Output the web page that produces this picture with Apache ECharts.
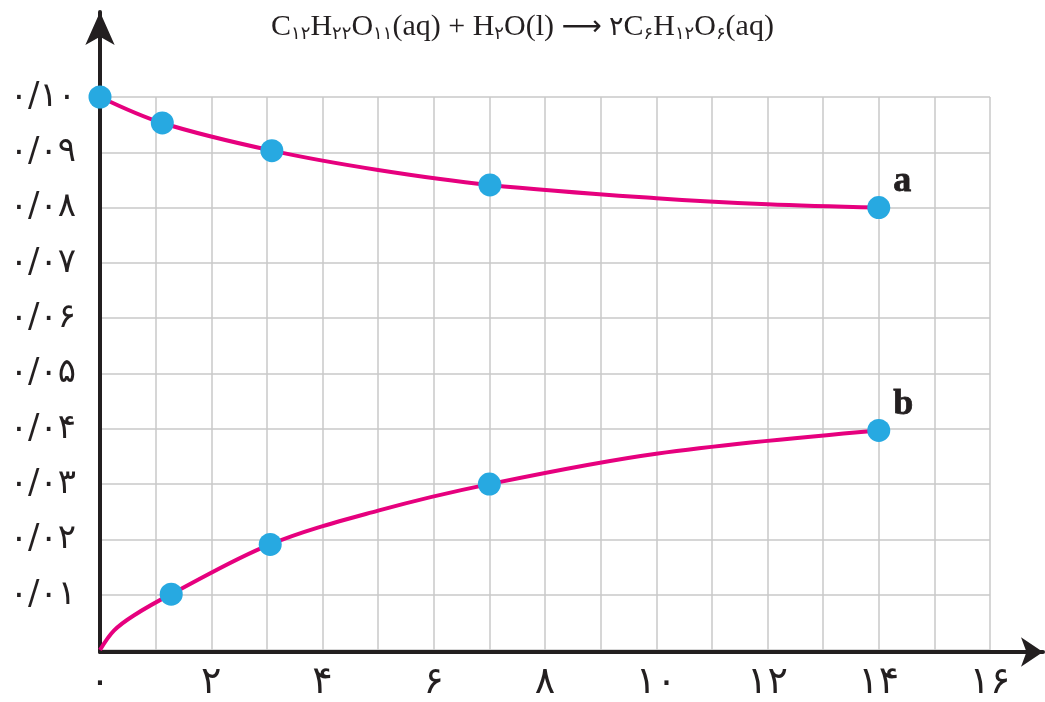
<!DOCTYPE html>
<html>
<head>
<meta charset="utf-8">
<script src="https://cdn.jsdelivr.net/npm/echarts@6/dist/echarts.min.js"></script>
<style>html,body{margin:0;padding:0;background:#fff}#c{width:1045px;height:702px}</style>
</head>
<body>
<div id="c"></div>
<script>
// Curve a (sucrose) traced points
var curveA = [[0,0.100],[1.12,0.0953],[3.09,0.0903],[5,0.0868],[7.01,0.0841],[10,0.0817],[12,0.0806],[14,0.0800]];
// Curve b (glucose) traced points
var curveB = [[0,0],[0.25,0.0035],[0.6,0.0062],[1.28,0.0101],[3.06,0.0191],[5,0.0252],[7,0.0300],[10,0.0355],[14,0.0397]];
// Measured markers
var markA = [[0,0.100],[1.12,0.0953],[3.09,0.0903],[7.01,0.0841],[14,0.0800]];
var markB = [[1.28,0.0101],[3.06,0.0191],[7,0.0300],[14,0.0397]];
var xTickLabels = {0:'۰',2:'۲',4:'۴',6:'۶',8:'۸',10:'۱۰',12:'۱۲',14:'۱۴',16:'۱۶'};
var yTickLabels = ['۰','۰/۰۱','۰/۰۲','۰/۰۳','۰/۰۴','۰/۰۵','۰/۰۶','۰/۰۷','۰/۰۸','۰/۰۹','۰/۱۰'];
var seriesNames = ['a','b'];

var chart = echarts.init(document.getElementById('c'));
var pink = '#e6007e', blue = '#27a9e1';
function markSeries(data, name){
  return {
    type:'scatter', xAxisIndex:0, yAxisIndex:0, z:5,
    symbolSize:23, itemStyle:{color:blue, opacity:1},
    label:{show:false},
    data: data.map(function(p,i){
      var d = {value:p};
      if(i===data.length-1){
        d.label = {show:true, formatter:name, position:'right', offset:[-2,-26],
          fontFamily:'Liberation Serif', fontWeight:900, fontSize:36, color:'#231f20',
          textBorderColor:'#231f20', textBorderWidth:0.8};
      }
      return d;
    })
  };
}
chart.setOption({
  animation:false,
  title:{
    text:'C{s|۱۲}H{s|۲۲}O{s|۱۱}(aq) + H{s|۲}O(l) {a|⟶} {p|۲}C{s|۶}H{s|۱۲}O{s|۶}(aq)',
    left:'center', top:7,
    textStyle:{
      fontFamily:'Liberation Serif', fontSize:30, fontWeight:'normal', color:'#231f20',
      rich:{
        s:{fontFamily:'DejaVu Sans', fontSize:18, color:'#231f20', padding:[13,0,0,0]},
        p:{fontFamily:'DejaVu Sans', fontSize:27, color:'#231f20'},
        a:{fontFamily:'DejaVu Sans', fontSize:28, color:'#231f20'}
      }
    }
  },
  grid:[
    {left:100, right:55, top:97, bottom:50},
    {left:100, right:2, top:12, bottom:50}
  ],
  xAxis:[
    {type:'value', gridIndex:0, min:0, max:16, interval:1,
     axisLine:{show:false}, axisTick:{show:false},
     splitLine:{show:true, lineStyle:{color:'#c9c9c9', width:1.5}},
     axisLabel:{margin:14, fontFamily:'DejaVu Sans', fontSize:38, color:'#231f20',
       formatter:function(v){ return xTickLabels[v] !== undefined ? xTickLabels[v] : ''; }}},
    {type:'value', gridIndex:1, min:0, max:1, splitLine:{show:false}, axisTick:{show:false}, axisLabel:{show:false},
     axisLine:{show:true, symbol:['none','arrow'], symbolSize:[22,22], lineStyle:{color:'#231f20', width:4}}}
  ],
  yAxis:[
    {type:'value', gridIndex:0, min:0, max:0.1, interval:0.01,
     axisLine:{show:false}, axisTick:{show:false},
     splitLine:{show:true, lineStyle:{color:'#c9c9c9', width:1.5}},
     axisLabel:{margin:24, fontFamily:'DejaVu Sans', fontSize:34, color:'#231f20',
       formatter:function(v){ var i=Math.round(v*100); return i===0 ? '' : yTickLabels[i]; }}},
    {type:'value', gridIndex:1, min:0, max:1, splitLine:{show:false}, axisTick:{show:false}, axisLabel:{show:false},
     axisLine:{show:true, symbol:['none','arrow'], symbolSize:[22,33], lineStyle:{color:'#231f20', width:4}}}
  ],
  series:[
    {type:'line', name:seriesNames[0], data:curveA, smooth:0.35, showSymbol:false, z:3,
     lineStyle:{color:pink, width:4}},
    {type:'line', name:seriesNames[1], data:curveB, smooth:0.35, showSymbol:false, z:3,
     lineStyle:{color:pink, width:4}},
    markSeries(markA, seriesNames[0]),
    markSeries(markB, seriesNames[1])
  ]
});
</script>
</body>
</html>
